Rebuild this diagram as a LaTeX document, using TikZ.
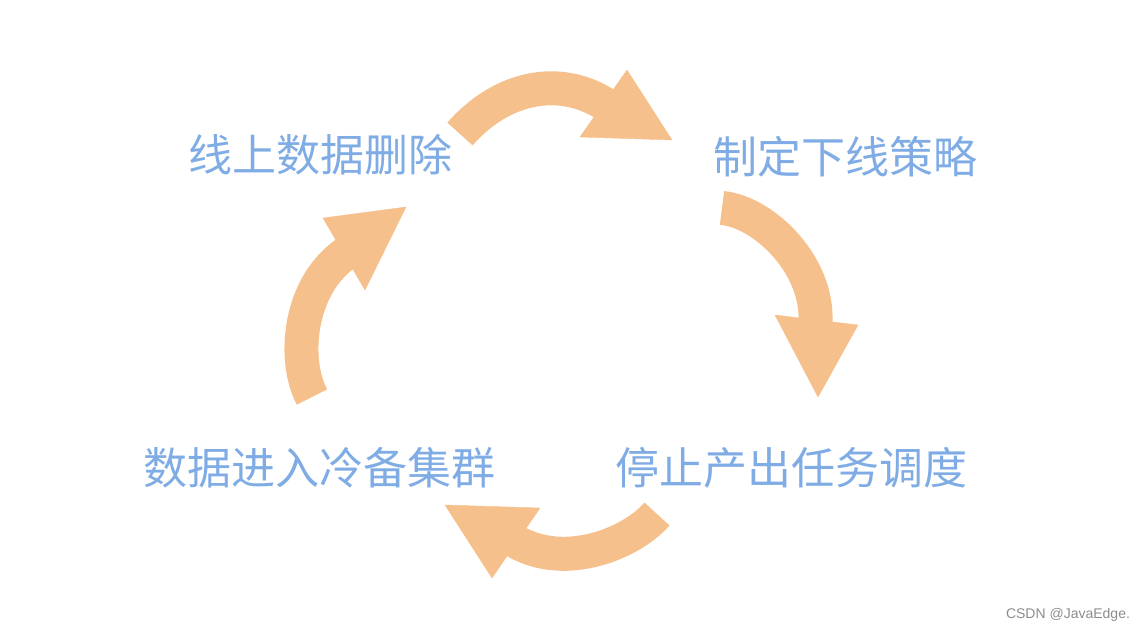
\documentclass[tikz,border=0pt]{standalone}
\usepackage{fontspec}
\newfontfamily\cjk{Noto Sans CJK SC}
\newfontfamily\wmark{Liberation Sans}
\usetikzlibrary{calc}
\definecolor{peach}{HTML}{F6C08C}
\definecolor{skyblue}{HTML}{80ACE5}
\begin{document}
\begin{tikzpicture}[x=1pt,y=-1pt]
% % Styles
 \tikzset{
 	stage/.style={text=skyblue, font=\cjk\fontsize{44}{50}\selectfont, inner sep=0pt},
 	band/.style={draw=peach, line width=34pt, line cap=butt},
 	head/.style={fill=peach, draw=peach, line join=round}
 }
 \useasboundingbox (0,0) rectangle (1142,635);
% % Stages
 \node[stage] (online) at (320,155) {线上数据删除};
 \node[stage] (policy) at (845,157) {制定下线策略};
 \node[stage] (stop) at (791,468) {停止产出任务调度};
 \node[stage] (cold) at (319,468) {数据进入冷备集群};
% % Arrow ends
 \coordinate (t1) at (460,134); \coordinate (h1) at (611,108);
 \coordinate (t2) at (722,208); \coordinate (h2) at (815,328);
 \coordinate (t3) at (657,514); \coordinate (h3) at (510,538);
 \coordinate (t4) at (312,397); \coordinate (h4) at (351,250);
% % Curved bands
 \draw[band] (t1) .. controls (500,88) and (560,72) .. (h1);
 \draw[band] (t2) .. controls (765,212) and (822,268) .. (h2);
 \draw[band] (t3) .. controls (630,545) and (560,572) .. (h3);
 \draw[band] (t4) .. controls (292,360) and (298,282) .. (h4);
% % Heads
 \filldraw[head] (627,70) -- (580,137) -- (672,140) -- cycle;
 \filldraw[head] (775,315) -- (858,325) -- (818,397) -- cycle;
 \filldraw[head] (540,508) -- (492,578) -- (445,505) -- cycle;
 \filldraw[head] (323,218) -- (365,290) -- (406,207) -- cycle;
% % Watermark
 \node[text=black!45, font=\wmark\fontsize{14}{16}\selectfont, inner sep=0pt] (mark) at (1068,615) {CSDN @JavaEdge.};
\end{tikzpicture}
\end{document}
